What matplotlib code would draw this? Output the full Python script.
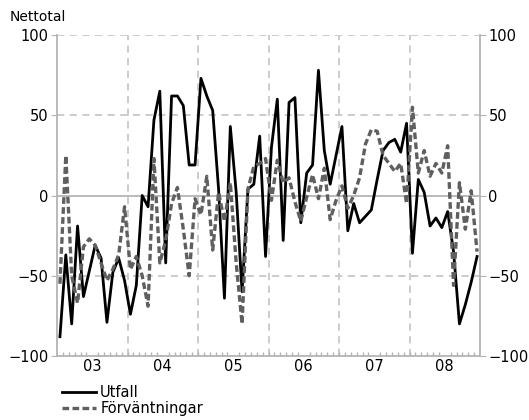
import matplotlib
matplotlib.use("Agg")
import matplotlib.pyplot as plt
from matplotlib.ticker import FixedLocator

year_labels = ["03", "04", "05", "06", "07", "08"]

utfall = [
    -88, -37, -80, -19, -63, -47, -31, -39, -79, -48, -39, -53,
    -74, -56, 0, -7, 47, 65, -42, 62, 62, 56, 19, 19,
    73, 62, 53, 4, -64, 43, 2, -60, 4, 7, 37, -38,
    30, 60, -28, 58, 61, -17, 14, 19, 78, 28, 7, 25,
    43, -22, -5, -17, -13, -9, 10, 28, 33, 35, 27, 45,
    -36, 10, 2, -19, -14, -20, -10, -35, -80, -68, -54, -38,
]

forvantningar = [
    -55, 25, -50, -67, -32, -27, -31, -42, -53, -46, -37, -7,
    -46, -38, -50, -69, 23, -42, -28, -5, 5, -21, -50, -2,
    -12, 12, -34, 2, -16, 8, -42, -80, 4, 18, 20, 23,
    -3, 22, 8, 11, -4, -16, -1, 13, -2, 17, -15, -3,
    6, -8, 0, 11, 32, 41, 40, 25, 20, 15, 20, -5,
    55, 14, 28, 12, 20, 14, 31, -56, 8, -21, 3, -35,
]

series_labels = ["Utfall", "Förväntningar"]

plt.rcParams['font.family'] = ['DejaVu Sans']

fig = plt.figure(figsize=(5.29, 4.2), dpi=100)
ax = fig.add_axes([57/529, 1-356/420, (480-57)/529, (356-35)/420])

n = len(utfall)
x = list(range(n))
grid_col = "#c8c8c8"
spine_col = "#b4b4b4"

for v in [50, -50, 100]:
    ax.axhline(v, color=grid_col, lw=1.3, ls=(0, (4, 3)), zorder=1)
ax.axhline(0, color=spine_col, lw=1.3, zorder=1)
for k in range(1, len(year_labels)):
    ax.axvline(12*k - 0.5, color=grid_col, lw=1.3, ls=(0, (4, 3)), zorder=1)

ax.plot(x, utfall, color="black", lw=2.0, label=series_labels[0], zorder=3)
ax.plot(x, forvantningar, color="#5f5f5f", lw=2.4, ls=(0, (2.0, 1.0)),
        label=series_labels[1], zorder=4)

ax.set_xlim(-0.5, n - 0.5)
ax.set_ylim(-100, 100)

ax.spines['top'].set_visible(False)
for s in ['left', 'right', 'bottom']:
    ax.spines[s].set_color(spine_col)
    ax.spines[s].set_linewidth(1.3)

ax.set_yticks([-100, -50, 0, 50, 100])
ax.tick_params(axis='y', which='both', left=True, right=True, labelleft=True,
               labelright=True, direction='out', length=4, color=spine_col,
               labelsize=10.5, pad=2)
ax.set_xticks([12*k + 5.5 for k in range(len(year_labels))])
ax.set_xticklabels(year_labels)
ax.xaxis.set_minor_locator(FixedLocator([m - 0.5 for m in range(1, n)]))
ax.tick_params(axis='x', which='major', length=0, labelsize=10.5, pad=2)
ax.tick_params(axis='x', which='minor', direction='in', length=3,
               color=spine_col, width=1)

fig.text(10/529, 1-17/420, "Nettotal", fontsize=10, va="center", ha="left")

handles, labels = ax.get_legend_handles_labels()
fig.legend(handles, labels, loc="upper left", bbox_to_anchor=(52/529, 1-375/420),
           frameon=False, fontsize=10.5, handlelength=2.3, handletextpad=0.3,
           labelspacing=0.05, borderpad=0.2)

fig.savefig("out.png", dpi=100)
